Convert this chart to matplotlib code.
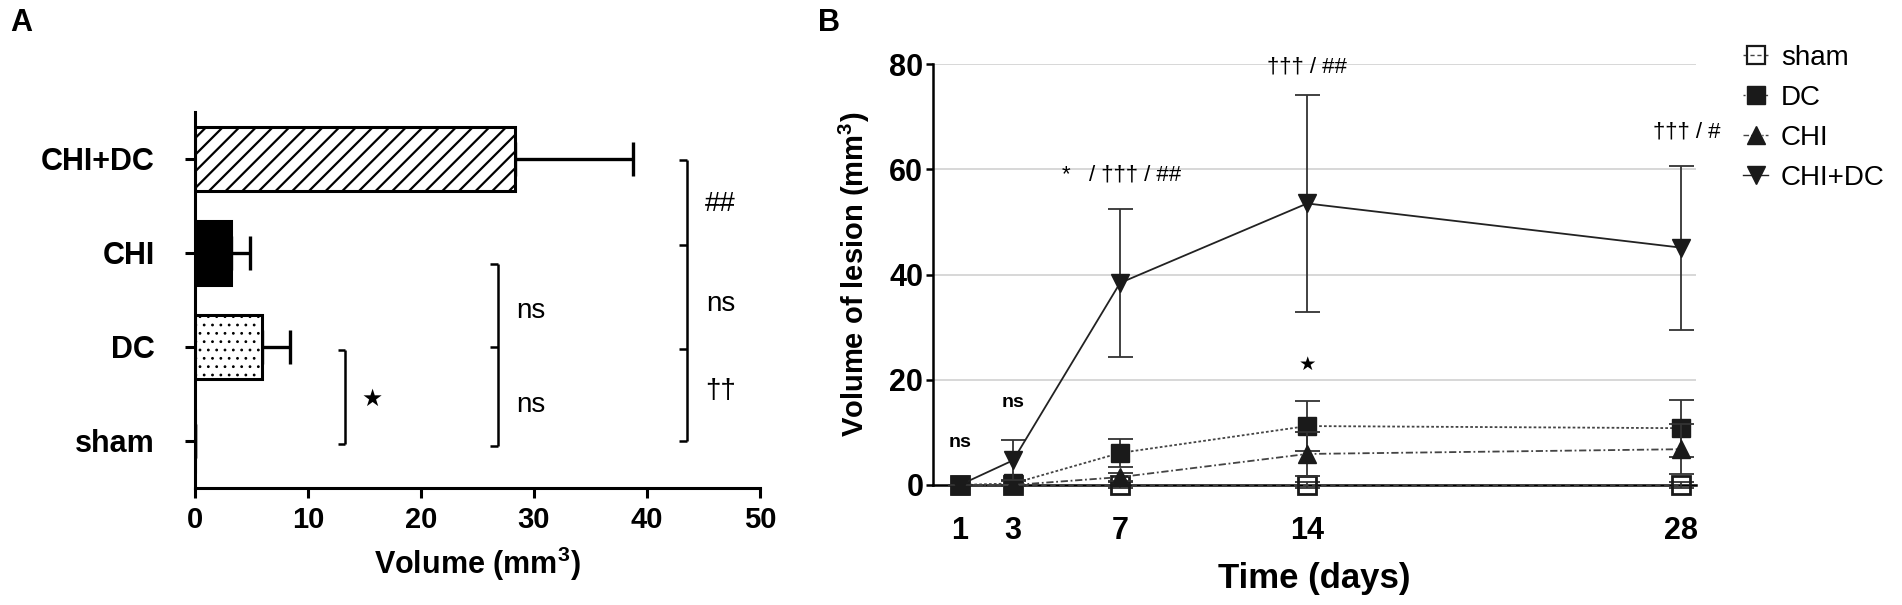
import matplotlib
matplotlib.use("Agg")
import matplotlib.pyplot as plt
import numpy as np

plt.rcParams['font.family'] = ['Liberation Sans', 'DejaVu Sans']
plt.rcParams['mathtext.fontset'] = 'custom'
plt.rcParams['mathtext.rm'] = 'Liberation Sans'
plt.rcParams['mathtext.bf'] = 'Liberation Sans:bold'
plt.rcParams['hatch.linewidth'] = 1.6

NARROW = ['Liberation Sans Narrow', 'Liberation Sans', 'DejaVu Sans']
STAR = ['DejaVu Sans']

# ---------------- data: panel A ----------------
groups_a = ['sham', 'DC', 'CHI', 'CHI+DC']
volume_a = [0.0, 5.9, 3.2, 28.3]
volume_err_a = [0.0, 2.5, 1.7, 10.5]
xticks_a = [0, 10, 20, 30, 40, 50]

# ---------------- data: panel B ----------------
days = [1, 3, 7, 14, 28]
sham_b = [0.0, 0.0, 0.0, 0.0, 0.0]
sham_err_b = [0.0, 0.0, 0.5, 0.5, 0.5]
dc_b = [0.0, 0.3, 6.1, 11.2, 10.8]
dc_err_b = [0.0, 0.5, 2.6, 4.8, 5.4]
chi_b = [0.0, 0.0, 1.5, 5.9, 6.8]
chi_err_b = [0.0, 0.0, 0.8, 4.1, 4.7]
chidc_b = [0.0, 4.7, 38.4, 53.5, 45.1]
chidc_err_b = [0.0, 3.8, 14.0, 20.6, 15.6]
yticks_b = [0, 20, 40, 60, 80]

fig = plt.figure(figsize=(19.02, 6.05), dpi=100)

# ================= Panel A =================
axA = fig.add_axes([195/1902, 1-488/605, 565/1902, 376/605])
pos = np.arange(len(groups_a))
faces = ['white', 'white', 'black', 'white']
hatches = [None, '..', None, '//']
bars = axA.barh(pos, volume_a, height=0.69, color=faces, edgecolor='black',
                linewidth=2.2, zorder=2)
for b, h in zip(bars, hatches):
    if h:
        b.set_hatch(h)
        if h == '..':
            try:
                b.set_hatch_linewidth(0.8)
            except Exception:
                pass
axA.errorbar(volume_a, pos, xerr=[np.zeros(len(volume_a)), volume_err_a], fmt='none',
             ecolor='black', elinewidth=2.4, capsize=12, capthick=2.4, zorder=1)
axA.set_xlim(0, 50)
axA.set_ylim(-0.5, 3.5)
axA.set_yticks(pos)
axA.set_yticklabels(groups_a, fontsize=22, fontweight='bold')
axA.set_xticks(xticks_a)
axA.set_xticklabels([str(v) for v in xticks_a], fontsize=21, fontweight='bold', family=NARROW)
axA.tick_params(axis='both', length=7, width=2.2, color='black')
axA.tick_params(axis='y', pad=22)
axA.tick_params(axis='x', pad=6)
for s in ['top', 'right']:
    axA.spines[s].set_visible(False)
for s in ['left', 'bottom']:
    axA.spines[s].set_linewidth(2.2)
axA.set_xlabel(r'Volume (mm$^{\mathbf{3}}$)', fontsize=22, fontweight='bold', family=NARROW, labelpad=8)

def bracket(ax, x, y0, y1, arm, mids=()):
    kw = dict(color='black', lw=1.8, clip_on=False, solid_capstyle='butt')
    ax.plot([x, x], [y0, y1], **kw)
    for y in (y0, y1) + tuple(mids):
        ax.plot([x - arm, x], [y, y], **kw)

bracket(axA, 13.3, -0.03, 0.97, 0.65)
axA.text(15.7, 0.45, '★', fontsize=17, family=STAR, ha='center', va='center')
bracket(axA, 26.8, -0.05, 1.88, 0.65, mids=(1.0,))
axA.text(28.4, 1.38, 'ns', fontsize=20, family=NARROW, ha='left', va='center')
axA.text(28.4, 0.38, 'ns', fontsize=20, family=NARROW, ha='left', va='center')
bracket(axA, 43.5, 0.0, 2.99, 0.65, mids=(0.98, 2.09))
axA.text(46.5, 2.52, '##', fontsize=20, family=NARROW, ha='center', va='center')
axA.text(46.5, 1.46, 'ns', fontsize=20, family=NARROW, ha='center', va='center')
axA.text(46.5, 0.53, '††', fontsize=20, family=NARROW, ha='center', va='center')

fig.text(10/1902, 1-8/605, 'A', fontsize=22, fontweight='bold', ha='left', va='top')

# ================= Panel B =================
axB = fig.add_axes([933/1902, 1-485/605, 763/1902, 421/605])
for g in yticks_b[1:]:
    axB.axhline(g, color='#d4d4d4', lw=1.3, zorder=0)

series = [
    ('sham', sham_b, sham_err_b, 's', 'none', (0, (3, 2)), '#444444'),
    ('DC', dc_b, dc_err_b, 's', '#1a1a1a', (0, (1.5, 1.2)), '#444444'),
    ('CHI', chi_b, chi_err_b, '^', '#1a1a1a', (0, (4, 1.5, 1, 1.5)), '#444444'),
    ('CHI+DC', chidc_b, chidc_err_b, 'v', '#1a1a1a', '-', '#222222'),
]
for i, (lab, vals, err, mk, mfc, ls, lc) in enumerate(series):
    axB.errorbar(days, vals, yerr=err, fmt='none', ecolor='#333333', elinewidth=1.3,
                 capsize=9, capthick=1.3, zorder=3 + i, clip_on=False)
    axB.plot(days, vals, linestyle=ls, color=lc, lw=1.3, marker=mk,
             markersize=13, markerfacecolor=mfc, markeredgecolor='#1a1a1a',
             markeredgewidth=2.0 if mfc == 'none' else 1.0,
             zorder=4 + i, clip_on=False, label=lab)

axB.set_xlim(0, 28.55)
axB.set_ylim(0, 80)
axB.set_xticks(days)
axB.set_xticklabels([str(d) for d in days], fontsize=22, fontweight='bold', family=NARROW)
axB.set_yticks(yticks_b)
axB.set_yticklabels([str(v) for v in yticks_b], fontsize=22, fontweight='bold', family=NARROW)
axB.tick_params(axis='x', length=0, pad=22)
axB.tick_params(axis='y', length=5, width=1.8, pad=2)
for s in ['top', 'right']:
    axB.spines[s].set_visible(False)
for s in ['left', 'bottom']:
    axB.spines[s].set_linewidth(1.8)
axB.spines['bottom'].set_zorder(2)
axB.set_xlabel('Time (days)', fontsize=25, fontweight='bold', family=NARROW, labelpad=12)
axB.set_ylabel(r'Volume of lesion (mm$^{\mathbf{3}}$)', fontsize=21, fontweight='heavy', labelpad=12)

axB.text(1, 8.0, 'ns', fontsize=14, fontweight='bold', ha='center', va='center')
axB.text(3, 15.6, 'ns', fontsize=14, fontweight='bold', ha='center', va='center')
axB.text(7.05, 59, '*   / ††† / ##', fontsize=16, family=NARROW, ha='center', va='center')
axB.text(14, 79.5, '††† / ##', fontsize=16, family=NARROW, ha='center', va='center', clip_on=False)
axB.text(28.2, 67, '††† / #', fontsize=16, family=NARROW, ha='center', va='center')
axB.text(14, 22.9, '★', fontsize=14, family=STAR, ha='center', va='center')

leg_handles = []
for (lab, vals, err, mk, mfc, ls, lc) in series:
    h, = axB.plot([], [], linestyle=ls, color=lc, lw=1.0, marker=mk, markersize=13,
                  markerfacecolor=mfc, markeredgecolor='#1a1a1a',
                  markeredgewidth=1.6 if mfc == 'none' else 1.0)
    leg_handles.append(h)
fig.legend(leg_handles, [s[0] for s in series], loc='upper left',
           bbox_to_anchor=(1743/1902, 1-45/605), frameon=False, fontsize=20,
           handlelength=0.9, handletextpad=0.47, labelspacing=0.5, borderpad=0,
           borderaxespad=0)

fig.text(818/1902, 1-8/605, 'B', fontsize=22, fontweight='bold', ha='left', va='top')

fig.savefig('out.png', dpi=100)
